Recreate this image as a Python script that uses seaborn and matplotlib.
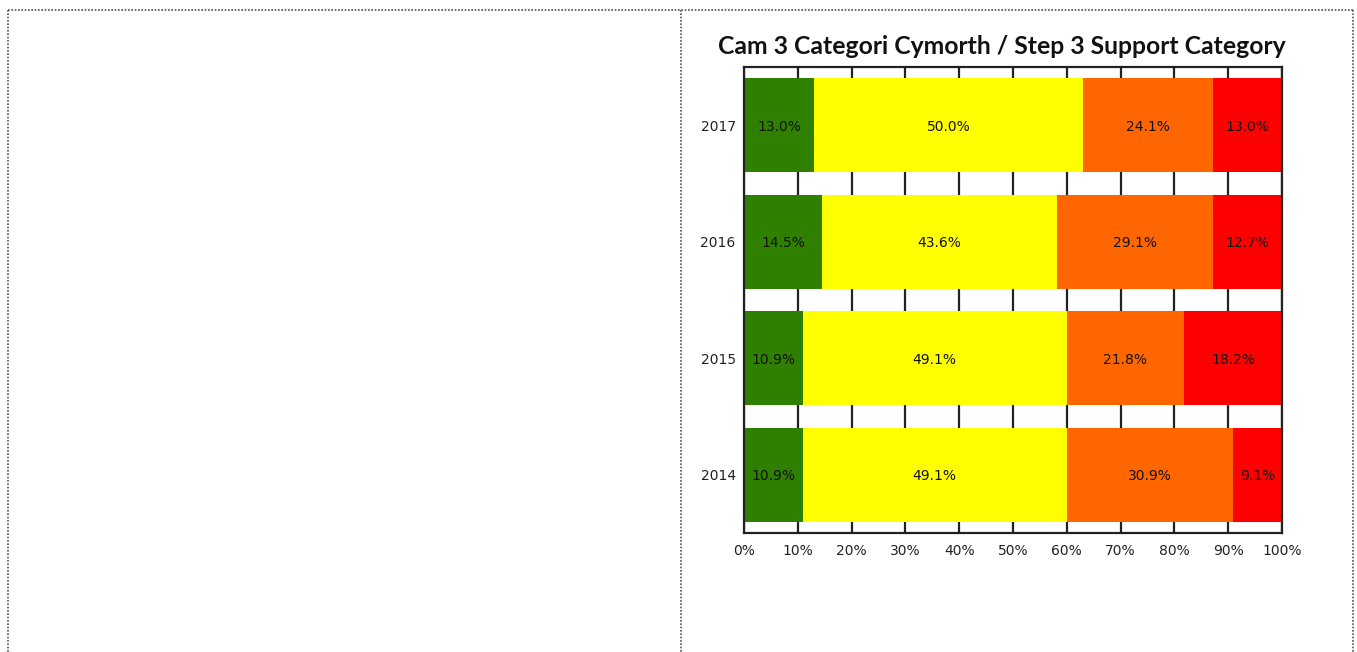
import matplotlib
matplotlib.use("Agg")
import matplotlib.pyplot as plt
import seaborn as sns
import pandas as pd
import numpy as np
from matplotlib.lines import Line2D

years = ["2017", "2016", "2015", "2014"]
cat1 = [13.0, 14.5, 10.9, 10.9]
cat2 = [50.0, 43.6, 49.1, 49.1]
cat3 = [24.1, 29.1, 21.8, 30.9]
cat4 = [13.0, 12.7, 18.2, 9.1]
colors = ["#2F7F00", "#FFFF00", "#FF6600", "#FF0000"]
title = "Cam 3 Categori Cymorth / Step 3 Support Category"
xticks = [0, 10, 20, 30, 40, 50, 60, 70, 80, 90, 100]

sns.set_theme(style="white")
plt.rcParams["font.family"] = ["DejaVu Sans"]

W, H = 1357, 652
fig = plt.figure(figsize=(W / 100, H / 100), dpi=100)

# dotted page/table borders
def fx(px):
    return px / W
def fy(py):
    return 1 - py / H
bcol = "#555555"
for (x0, y0, x1, y1) in [(8, 10, 1353, 10), (8, 10, 8, 652), (681, 10, 681, 652), (1353, 10, 1353, 652)]:
    fig.add_artist(Line2D([fx(x0), fx(x1)], [fy(y0), fy(y1)], transform=fig.transFigure,
                          color=bcol, lw=1.2, linestyle=(0, (1, 1))))

ax = fig.add_axes([fx(744), fy(533), fx(1282) - fx(744), fy(67) - fy(533)])

series = [cat1, cat2, cat3, cat4]
cum = np.zeros(len(years))
cums = []
for s in series:
    cum = cum + np.array(s)
    cums.append(cum.copy())

# draw from the largest cumulative to the smallest so segments stack
for i in range(len(series) - 1, -1, -1):
    d = pd.DataFrame({"year": years, "value": cums[i]})
    sns.barplot(data=d, x="value", y="year", order=years, color=colors[i],
                width=0.81, saturation=1, ax=ax, zorder=2, edgecolor="none", linewidth=0)

# labels
for i, s in enumerate(series):
    start = cums[i] - np.array(s)
    for j, v in enumerate(s):
        ax.text(start[j] + v / 2, j, f"{v:.1f}%", ha="center", va="center_baseline",
                fontsize=10, color="#111111", zorder=5)

ax.set_xlim(0, 100)
ax.set_ylim(3.5, -0.5)
ax.set_xticks(xticks)
ax.set_xticklabels([f"{t}%" for t in xticks], fontsize=10, color="#222222")
ax.tick_params(axis="y", labelsize=10, labelcolor="#222222", length=0, pad=6)
ax.tick_params(axis="x", length=0, pad=8)
ax.set_xlabel("")
ax.set_ylabel("")
ax.xaxis.grid(True, color="#222222", linewidth=1.6, zorder=0)
ax.set_axisbelow(True)
for sp in ax.spines.values():
    sp.set_visible(True)
    sp.set_color("#222222")
    sp.set_linewidth(1.6)

fig.text(fx(1002), fy(47), title, ha="center", va="center",
         fontsize=17.8, fontweight="bold", family=["Lato", "DejaVu Sans"], color="#111111")

fig.savefig("out.png", dpi=100)
